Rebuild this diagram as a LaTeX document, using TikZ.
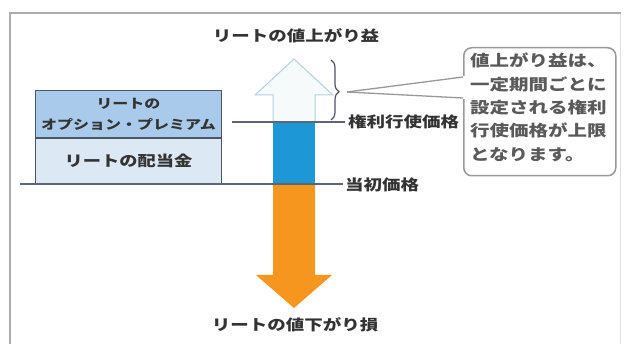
\documentclass[tikz,border=0pt]{standalone}
\usepackage{fontspec}
\setmainfont[FakeStretch=1.25]{Noto Sans CJK JP}
\usetikzlibrary{decorations.pathreplacing}
\definecolor{premfill}{HTML}{A9CAEA}
\definecolor{divfill}{HTML}{DDE8F5}
\definecolor{boxline}{HTML}{4A5566}
\definecolor{blueb}{HTML}{1E97D6}
\definecolor{orangeb}{HTML}{F7961E}
\definecolor{upline}{HTML}{B4D2E2}
\definecolor{txt}{HTML}{333333}
\definecolor{calltxt}{HTML}{5A5A5A}
\tikzset{
  lbl/.style={text=txt, font=\fontsize{14.8}{16}\selectfont\bfseries, inner sep=0pt},
  boxpart/.style={draw=boxline, line width=1pt, minimum width=186pt, text=txt, inner sep=0pt, align=center},
  level/.style={draw=boxline!90, line width=1.2pt},
}
\begin{document}
\begin{tikzpicture}[x=1pt,y=-1pt]
\useasboundingbox (0,0) rectangle (625,344);
\fill[white] (0,0) rectangle (625,344);
% frame
\draw[gray!25, line width=1pt] (620,13) -- (620,344);
\draw[gray!65, line width=2.5pt] (10,344) -- (10,13) -- (621,13);
% left box
\node[boxpart, fill=premfill, minimum height=47pt, anchor=north west,
      font=\fontsize{12.8}{21}\selectfont\bfseries] (prem) at (35,90) {リートの\\オプション・プレミアム};
\node[boxpart, fill=divfill, minimum height=45pt, anchor=north] (div) at (prem.south)
      {\fontsize{14.6}{16}\selectfont\bfseries リートの配当金};
% blue bar and orange arrow
\fill[blueb] (273,122) rectangle (315,184);
\fill[orangeb] (273,184) -- (273,275) -- (256,275) -- (294,308) -- (332,275) -- (315,275) -- (315,184) -- cycle;
% up arrow outline
\fill[upline!12] (273,122) -- (273,95) -- (255,95) -- (294,59) -- (333,95) -- (315,95) -- (315,122) -- cycle;
\draw[upline, line width=1pt] (273,122) -- (273,95) -- (255,95) -- (294,59) -- (333,95) -- (315,95) -- (315,122);
% level lines
\coordinate (base0) at (20,184);
\coordinate (base1) at (343,184);
\coordinate (ex0) at (232,122);
\coordinate (ex1) at (345,122);
\draw[level] (base0) -- (base1);
\draw[level] (ex0) -- (ex1);
% labels
\node[lbl] (up) at (296,36) {リートの値上がり益};
\node[lbl] (down) at (295,325) {リートの値下がり損};
\node[lbl, anchor=west] (strike) at (348,122) {権利行使価格};
\node[lbl, anchor=west] (init) at (345,185) {当初価格};
% brace
\draw[boxline, line width=1.2pt, decorate, decoration={brace, amplitude=8pt, aspect=0.53}] (331,60) -- (331,120);
\coordinate (bt) at (347,92);
% callout
\node[draw=gray!80, line width=1.5pt, rounded corners=8pt, fill=white, anchor=north west,
      minimum width=152pt, minimum height=128pt, inner sep=0pt] (call) at (463,47) {};
\fill[white] (bt) -- (465,76) -- (465,99) -- cycle;
\draw[gray!80, line width=1.3pt] (bt) -- (call.west |- 0,77);
\draw[gray!80, line width=1.3pt] (bt) -- (call.west |- 0,98);
\node[anchor=north west, text=calltxt, align=left, inner sep=0pt,
      font=\fontsize{15.6}{23.3}\selectfont\bfseries] (calltext) at (470,53)
      {値上がり益は、\\一定期間ごとに\\設定される権利\\行使価格が上限\\となります。};
\end{tikzpicture}
\end{document}
